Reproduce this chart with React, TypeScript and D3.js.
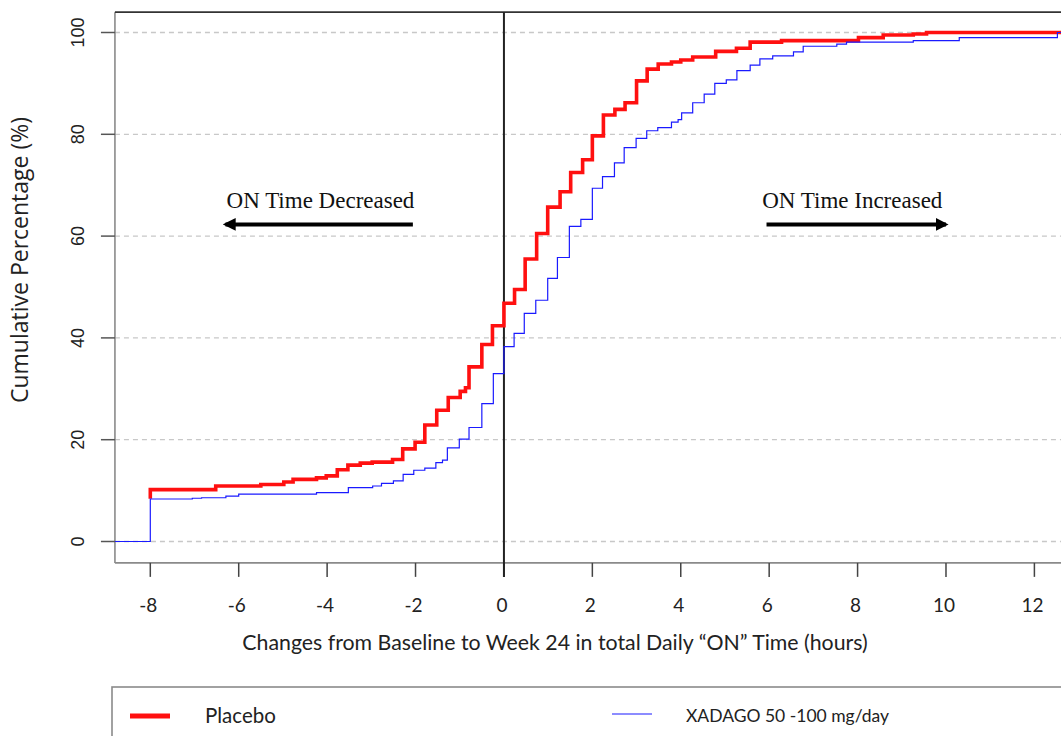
import React from 'react';
import * as d3 from 'd3';

// Cumulative distribution, change from baseline in daily ON time (hours)
const placeboHours = [-8, -8, -6.52, -5.5, -4.98, -4.77, -4.24, -4.02, -3.77, -3.53, -3.25, -2.98, -2.52, -2.29, -2.01, -1.79, -1.52, -1.26, -0.99, -0.87, -0.79, -0.5, -0.26, 0, 0.24, 0.48, 0.74, 0.99, 1.27, 1.51, 1.78, 2.0, 2.25, 2.51, 2.74, 3.0, 3.24, 3.49, 3.79, 4.0, 4.27, 4.79, 5.26, 5.57, 6.28, 8.02, 8.58, 9.26, 9.56, 12.8];
const placeboPct = [8.4, 10.2, 10.9, 11.2, 11.7, 12.2, 12.5, 12.9, 14.1, 15.0, 15.4, 15.6, 16.1, 18.2, 19.5, 22.9, 25.8, 28.3, 29.5, 30.2, 34.3, 38.7, 42.4, 46.8, 49.5, 55.5, 60.5, 65.7, 68.7, 72.5, 75.0, 79.7, 83.8, 84.9, 86.2, 90.5, 92.8, 93.8, 94.2, 94.6, 95.2, 96.3, 96.9, 98.1, 98.4, 99.0, 99.5, 99.7, 100, 100];

const xadagoHours = [-8.8, -8, -8, -7.05, -6.84, -6.29, -6.0, -4.24, -3.52, -2.97, -2.77, -2.5, -2.28, -2.04, -1.79, -1.54, -1.39, -1.28, -1.01, -0.79, -0.5, -0.24, 0, 0.23, 0.46, 0.72, 0.99, 1.21, 1.48, 1.74, 2.0, 2.23, 2.5, 2.72, 2.99, 3.23, 3.48, 3.79, 3.94, 4.02, 4.27, 4.53, 4.77, 5.03, 5.27, 5.57, 5.79, 6.08, 6.55, 6.77, 7.53, 7.75, 9.26, 10.3, 12.52, 12.8];
const xadagoPct = [0, 0, 8.35, 8.5, 8.6, 8.9, 9.3, 9.6, 10.6, 10.9, 11.4, 11.9, 13.2, 14.0, 14.4, 15.5, 16.0, 18.4, 20.1, 22.4, 27.1, 33.0, 38.3, 40.9, 44.8, 47.4, 51.7, 55.8, 61.9, 63.3, 69.4, 71.7, 74.4, 77.4, 79.2, 80.7, 81.3, 82.4, 82.9, 84.2, 86.2, 87.9, 90.0, 90.7, 92.5, 93.6, 94.8, 95.4, 96.2, 97.3, 97.7, 98.1, 98.4, 99.0, 100, 100];

const xTicks = [-8, -6, -4, -2, 0, 2, 4, 6, 8, 10, 12];
const yTicks = [0, 20, 40, 60, 80, 100];

const seriesNames = ['Placebo', 'XADAGO 50 -100 mg/day'];

const W = 1061;
const H = 736;

export default function App() {
  const x = d3.scaleLinear().domain([-8, 12]).range([150.3, 1034.4]);
  const y = d3.scaleLinear().domain([0, 100]).range([541.5, 32.5]);

  const left = x(-8.8);
  const right = x(13.2);
  const top = y(104);
  const bottom = y(-4.2);

  const step = d3.line<[number, number]>()
    .x(d => x(d[0]))
    .y(d => y(d[1]))
    .curve(d3.curveStepAfter);

  const placebo = placeboHours.map((h, i) => [h, placeboPct[i]] as [number, number]);
  const xadago = xadagoHours.map((h, i) => [h, xadagoPct[i]] as [number, number]);

  const calibri = 'Lato, "Open Sans", sans-serif';
  const serif = '"Liberation Serif", "Times New Roman", serif';

  return (
    <svg width={W} height={H} style={{ position: 'absolute', left: 0, top: 0, background: '#fff' }}>
      <defs>
        <marker id="head" viewBox="0 0 10 10" refX="8" refY="5" markerWidth="3.2" markerHeight="3.2" orient="auto-start-reverse">
          <path d="M0,0 L10,5 L0,10 z" fill="#000" />
        </marker>
      </defs>

      {/* grid */}
      {yTicks.map(t => (
        <line key={'g' + t} x1={left} x2={right} y1={y(t)} y2={y(t)}
          stroke="#c8c8c8" strokeWidth={1.3} strokeDasharray="5,4" />
      ))}

      {/* frame */}
      <line x1={left} x2={left} y1={top} y2={bottom} stroke="#8a8a8a" strokeWidth={1.6} />
      <line x1={left} x2={right} y1={top} y2={top} stroke="#333" strokeWidth={1.6} />
      <line x1={left} x2={right} y1={bottom} y2={bottom} stroke="#8a8a8a" strokeWidth={1.6} />

      {/* y axis */}
      {yTicks.map(t => (
        <g key={'y' + t}>
          <line x1={left - 14} x2={left} y1={y(t)} y2={y(t)} stroke="#555" strokeWidth={1.5} />
          <text transform={`translate(${left - 31},${y(t)}) rotate(-90)`} textAnchor="middle"
            fontFamily='"Liberation Sans", Arial, sans-serif' fontSize={18} fill="#222">{t}</text>
        </g>
      ))}
      <text transform={`translate(28,${260}) rotate(-90)`} textAnchor="middle"
        fontFamily='"Open Sans", sans-serif' fontSize={23} fill="#222">Cumulative Percentage (%)</text>

      {/* x axis */}
      {xTicks.map(t => (
        <g key={'x' + t}>
          <line x1={x(t)} x2={x(t)} y1={bottom} y2={bottom + 14} stroke="#444" strokeWidth={1.5} />
          <text x={x(t) - 2} y={612} textAnchor="middle" fontFamily={calibri} fontSize={19} fill="#222">{t}</text>
        </g>
      ))}
      <text x={555} y={650} textAnchor="middle" fontFamily={calibri} fontSize={21.3} fill="#222">
        Changes from Baseline to Week 24 in total Daily “ON” Time (hours)
      </text>

      {/* zero reference */}
      <line x1={x(0)} x2={x(0)} y1={top} y2={bottom + 14} stroke="#222" strokeWidth={2} />

      {/* curves */}
      <path d={step(placebo) ?? ''} fill="none" stroke="#ff1010" strokeWidth={3.6} />
      <path d={step(xadago) ?? ''} fill="none" stroke="#1a1aff" strokeWidth={1.2} />

      {/* annotations */}
      <text x={x(-4.15)} y={208} textAnchor="middle" fontFamily={serif}
        fontSize={23} fill="#111">ON Time Decreased</text>
      <line x1={x(-2.06)} x2={x(-6.3)} y1={y(62.3)} y2={y(62.3)} stroke="#000" strokeWidth={4} markerEnd="url(#head)" />
      <text x={x(7.88)} y={208} textAnchor="middle" fontFamily={serif}
        fontSize={23} fill="#111">ON Time Increased</text>
      <line x1={x(5.94)} x2={x(10.0)} y1={y(62.3)} y2={y(62.3)} stroke="#000" strokeWidth={4} markerEnd="url(#head)" />

      {/* legend */}
      <rect x={112} y={687} width={1000} height={100} fill="none" stroke="#8a8a8a" strokeWidth={1.6} />
      <line x1={130} x2={170} y1={716} y2={716} stroke="#ff1010" strokeWidth={5} />
      <text x={205} y={723} fontFamily={calibri} fontSize={20.5} fill="#222">{seriesNames[0]}</text>
      <line x1={612} x2={652} y1={714} y2={714} stroke="#1a1aff" strokeWidth={1.2} />
      <text x={686} y={722} fontFamily={calibri} fontSize={17.5} fill="#222">{seriesNames[1]}</text>
    </svg>
  );
}
